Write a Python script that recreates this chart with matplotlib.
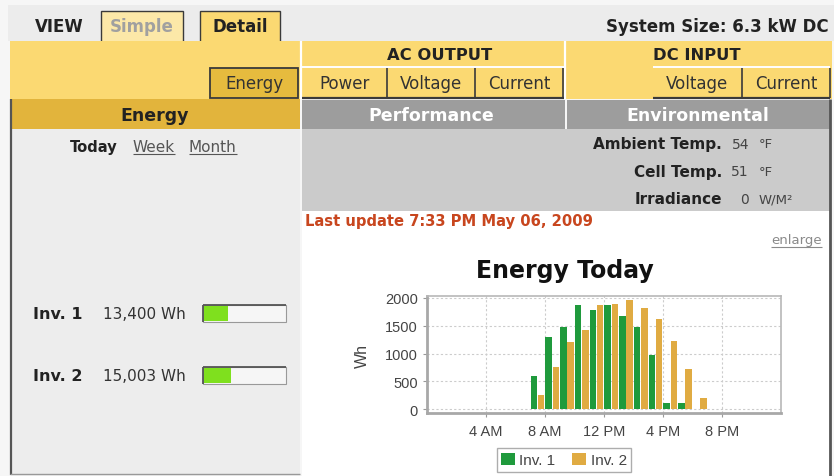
import matplotlib
matplotlib.use('Agg')
from matplotlib import pyplot as plt
from matplotlib.patches import Rectangle

# hourly energy per inverter (Wh), one bar per hour slot
inv1_hours = [7, 8, 9, 10, 11, 12, 13, 14, 15, 16, 17]
inv1_energy = [600, 1290, 1480, 1870, 1780, 1870, 1670, 1480, 980, 100, 100]
inv2_hours = [7, 8, 9, 10, 11, 12, 13, 14, 15, 16, 17, 18]
inv2_energy = [250, 760, 1200, 1430, 1870, 1900, 1960, 1820, 1630, 1220, 720, 200]

hour_ticks = [4, 8, 12, 16, 20]
hour_labels = ['4 AM', '8 AM', '12 PM', '4 PM', '8 PM']
wh_ticks = [0, 500, 1000, 1500, 2000]

inv_names = ['Inv. 1', 'Inv. 2']
inv_totals = [13400, 15003]

env_labels = ['Ambient Temp.', 'Cell Temp.', 'Irradiance']
env_values = ['54', '51', '0']
env_units = ['°F', '°F', 'W/M²']

ac_buttons = ['Power', 'Voltage', 'Current']
dc_buttons = ['Voltage', 'Current']
periods = ['Today', 'Week', 'Month']

plt.rcParams['font.family'] = ['DejaVu Sans']

W, H = 834, 477
fig = plt.figure(figsize=(W / 100, H / 100), dpi=100, facecolor='#f6f6f6')
bg = fig.add_axes([0, 0, 1, 1])
bg.set_xlim(0, W)
bg.set_ylim(H, 0)
bg.axis('off')

YELLOW = '#fbd972'
GOLD = '#e2b43c'
DARK = '#3a3a3a'
GRAY_HDR = '#9d9d9d'
GRAY_ENV = '#cbcbcb'
PANEL = '#ededed'


def box(x0, y0, x1, y1, fc, ec='none', lw=0, z=1):
    bg.add_patch(Rectangle((x0, y0), x1 - x0, y1 - y0, facecolor=fc,
                           edgecolor=ec, linewidth=lw, zorder=z))


def line(xs, ys, c, lw=1.0, z=4):
    bg.plot(xs, ys, color=c, lw=lw, zorder=z, solid_capstyle='butt')


def txt(x, y, s, size=10, ha='left', weight='normal', color='#222222', **kw):
    return bg.text(x, y, s, fontsize=size, ha=ha, va='center',
                   fontweight=weight, color=color, zorder=6, **kw)


# top strip with view tabs
box(8, 6, W, 42, '#ececec')
txt(35, 27, 'VIEW', 12, weight='bold')
box(101, 12, 183, 43, '#fce8a8', ec=DARK, lw=1.0, z=2)
txt(142, 27, 'Simple', 12, ha='center', weight='bold', color='#a0a0a0')
box(200, 12, 280, 43, YELLOW, ec=DARK, lw=1.0, z=2)
txt(240, 27, 'Detail', 12, ha='center', weight='bold')
txt(829, 27, 'System Size: 6.3 kW DC', 12, ha='right', weight='bold')

# yellow menu band
box(10, 42, 832, 100, YELLOW, z=3)
line([301, 301], [42, 100], 'white', 1.6)
line([565, 565], [42, 100], 'white', 1.6)
line([302, 564], [68, 68], 'white', 1.4)
line([653, 830], [68, 68], 'white', 1.4)
txt(440, 55, 'AC OUTPUT', 11.8, ha='center', weight='bold')
txt(697, 55, 'DC INPUT', 11.8, ha='center', weight='bold')

box(210, 69, 298, 99, '#e6bb3e', ec=DARK, lw=1.3, z=4)
txt(254, 84, 'Energy', 12, ha='center', color='#333333')

ac_edges = [302, 387, 475, 563]
for i, name in enumerate(ac_buttons):
    txt((ac_edges[i] + ac_edges[i + 1]) / 2, 84, name, 12, ha='center', color='#333333')
    line([ac_edges[i + 1], ac_edges[i + 1]], [69, 99], DARK, 1.2)
line([302, 564], [99, 99], DARK, 1.6)

dc_edges = [653, 742, 830]
for i, name in enumerate(dc_buttons):
    txt((dc_edges[i] + dc_edges[i + 1]) / 2, 84, name, 12, ha='center', color='#333333')
    line([dc_edges[i + 1], dc_edges[i + 1]], [69, 99], DARK, 1.2)
line([653, 830], [99, 99], DARK, 1.6)

# section headers
box(10, 100, 300, 130, GOLD, z=3)
txt(155, 116, 'Energy', 12.5, ha='center', weight='bold')
box(302, 101, 565, 130, GRAY_HDR, z=3)
txt(431, 116, 'Performance', 12.5, ha='center', weight='bold', color='white')
box(567, 101, 830, 130, GRAY_HDR, z=3)
txt(698, 116, 'Environmental', 12.5, ha='center', weight='bold', color='white')

# left energy panel
box(10, 130, 300, 475, PANEL, z=2)
line([11, 11], [100, 476], '#555555', 1.6)
line([10, 300], [475, 475], '#999999', 1.0)

period_x = [70, 133, 189]
links = []
for x, p in zip(period_x, periods):
    if p == 'Today':
        txt(x, 148, p, 10.6, weight='bold')
    else:
        links.append(txt(x, 148, p, 11, color='#555555'))

cap = 46000.0
for i, (name, total) in enumerate(zip(inv_names, inv_totals)):
    y = 315 + 62 * i
    txt(33, y, name, 11.5, weight='bold')
    txt(103, y, f'{total:,} Wh', 11, color='#333333')
    box(203, y - 9, 286, y + 8, '#f6f6f6', ec='#999999', lw=0.8, z=4)
    box(204, y - 8, 204 + 82 * total / cap, y + 7, '#7fe01e', z=5)
    line([203, 286], [y - 9, y - 9], '#555555', 1.3, z=6)
    line([203.5, 203.5], [y - 9, y + 8], '#555555', 1.3, z=6)

# environmental readings
box(302, 130, 830, 212, GRAY_ENV, z=2)
for i, (lab, val, unit) in enumerate(zip(env_labels, env_values, env_units)):
    y = 145 + 27.5 * i
    txt(722, y, lab, 11, ha='right', weight='bold')
    txt(749, y, val, 10, ha='right', color='#444444')
    txt(759, y, unit, 9.5, color='#444444')

# chart panel
box(302, 212, 830, 477, 'white', z=2)
line([830.5, 830.5], [100, 477], '#555555', 2.0)
txt(305, 222, 'Last update 7:33 PM May 06, 2009', 10.6, weight='bold', color='#c8461e')
links.append(txt(822, 241, 'enlarge', 9.5, ha='right', color='#8a8a8a'))
txt(565, 271, 'Energy Today', 17, ha='center', weight='bold', color='#111111')

ax = fig.add_axes([427 / W, 1 - 414 / H, 354 / W, 117 / H])
ax.bar([h + 0.24 for h in inv1_hours], inv1_energy, width=0.44, color='#1f9a3c', label='Inv. 1', zorder=3)
ax.bar([h + 0.74 for h in inv2_hours], inv2_energy, width=0.44, color='#e0ab42', label='Inv. 2', zorder=3)
ax.set_xlim(0, 24)
ax.set_ylim(-72, 2036)
ax.set_xticks(hour_ticks)
ax.set_xticklabels(hour_labels)
ax.set_yticks(wh_ticks)
ax.grid(True, color='#cccccc', linestyle=(0, (2, 2)), linewidth=0.8, zorder=0)
for side in ['top', 'right']:
    ax.spines[side].set_color('#b8b8b8')
    ax.spines[side].set_linewidth(1.2)
for side in ['bottom', 'left']:
    ax.spines[side].set_color('#a8a8a8')
    ax.spines[side].set_linewidth(2.0)
ax.tick_params(length=3, color='#999999', labelcolor='#444444', labelsize=10.5)
ax.tick_params(axis='x', pad=5)
for lab in ax.get_xticklabels() + ax.get_yticklabels():
    lab.set_fontfamily('Liberation Sans')
ax.set_ylabel('Wh', fontsize=11.5, color='#444444', fontfamily='Liberation Sans')
ax.yaxis.set_label_coords(-0.16, 0.5)

leg = ax.legend(loc='center', bbox_to_anchor=(564 / W, 1 - 461 / H), bbox_transform=fig.transFigure,
                ncol=2, fancybox=False, edgecolor='#999999', handlelength=0.9, handleheight=0.9,
                handletextpad=0.3, columnspacing=1.1, borderpad=0.3,
                prop={'family': 'Liberation Sans', 'size': 11})
for t in leg.get_texts():
    t.set_color('#444444')

# underline the links
fig.canvas.draw()
inv = bg.transData.inverted()
for t in links:
    bb = t.get_window_extent()
    (x0, _), (x1, _) = inv.transform([[bb.x0, bb.y0], [bb.x1, bb.y1]])
    yy = t.get_position()[1] + 7
    line([x0, x1], [yy, yy], t.get_color(), 0.8, z=6)

fig.savefig('out.png', dpi=100, facecolor=fig.get_facecolor())
